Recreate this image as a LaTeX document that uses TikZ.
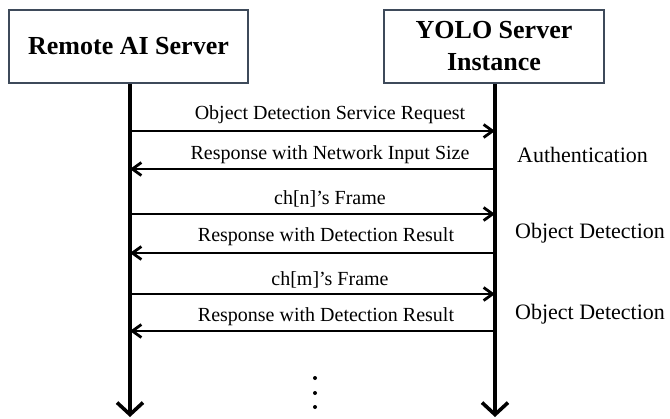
\documentclass[tikz,border=0pt]{standalone}
\usepackage{fontspec}
\setmainfont{Liberation Serif}
\usetikzlibrary{arrows.meta}
\definecolor{boxedge}{HTML}{3E4A5A}
\tikzset{
  actor/.style={draw=boxedge, line width=2.6bp, fill=white, align=center,
    inner sep=0pt, font=\fontsize{26bp}{32bp}\selectfont\bfseries},
  lifeline/.style={line width=3.6bp, -{Straight Barb[length=12bp,width=26bp,line width=3.6bp]}},
  msg/.style={line width=2.8bp, -{Straight Barb[length=9bp,width=13bp,line width=2.8bp]}},
  msglabel/.style={font=\fontsize{20bp}{24bp}\selectfont, inner sep=0pt},
  phase/.style={font=\fontsize{22bp}{26bp}\selectfont, inner sep=0pt, anchor=west},
  dot/.style={circle, fill=black, inner sep=0pt, minimum size=4bp}
}
\begin{document}
\begin{tikzpicture}[x=1bp, y=-1bp]
\useasboundingbox (0,0) rectangle (670,418);

% participants
\node[actor, minimum width=239bp, minimum height=73bp] (ai) at (128.5,46.5) {Remote AI Server};
\node[actor, minimum width=220bp, minimum height=73bp] (yolo) at (494,46.5) {YOLO Server\\Instance};

% lifeline ends
\coordinate (aiEnd) at (130,417);
\coordinate (yoloEnd) at (495,417);
\draw[lifeline] (ai.south -| aiEnd) -- (aiEnd);
\draw[lifeline] (yolo.south -| yoloEnd) -- (yoloEnd);

% message anchor points on the lifelines
\foreach \i/\y in {1/131, 2/169, 3/214, 4/253, 5/294, 6/331} {
  \coordinate (a\i) at (130,\y);
  \coordinate (y\i) at (495,\y);
}

\draw[msg] (a1) -- (y1);
\draw[msg] (y2) -- (a2);
\draw[msg] (a3) -- (y3);
\draw[msg] (y4) -- (a4);
\draw[msg] (a5) -- (y5);
\draw[msg] (y6) -- (a6);

\node[msglabel] (m1) at (330,115) {Object Detection Service Request};
\node[msglabel] (m2) at (330,155) {Response with Network Input Size};
\node[msglabel] (m3) at (330,199) {ch[n]’s Frame};
\node[msglabel] (m4) at (326,237) {Response with Detection Result};
\node[msglabel] (m5) at (330,280) {ch[m]’s Frame};
\node[msglabel] (m6) at (326,317) {Response with Detection Result};

% phase labels
\node[phase] (p1) at (517,155) {Authentication};
\node[phase] (p2) at (515,233) {Object Detection};
\node[phase] (p3) at (515,314) {Object Detection};

% continuation dots
\node[dot] (d1) at (315,378) {};
\node[dot] (d2) at (315,393) {};
\node[dot] (d3) at (315,407) {};
\end{tikzpicture}
\end{document}
